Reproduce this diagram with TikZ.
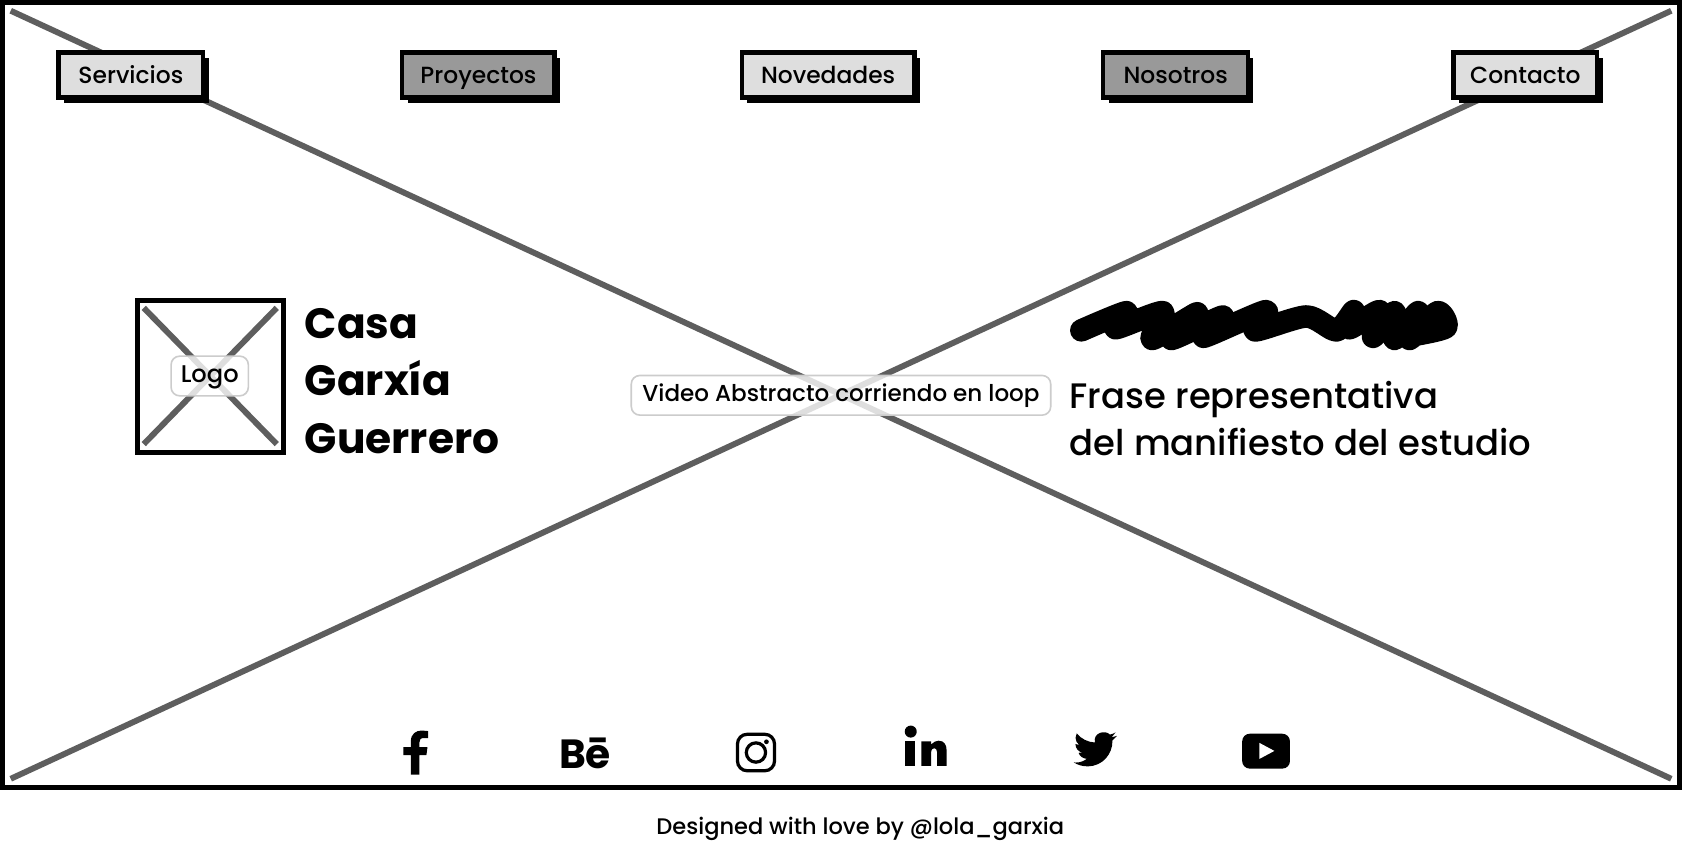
\documentclass[tikz,border=0pt]{standalone}
\usepackage{fontspec}
\setmainfont{Poppins}[UprightFont={* Medium},BoldFont={* Bold}]
\usetikzlibrary{shadows}
\tikzset{
  x=1pt,y=-1pt,
  navbtn/.style={draw=black,line width=4pt,inner sep=0pt,font=\fontsize{21.8}{21.8}\selectfont,text=black,text height=18pt,text depth=2pt,
    general shadow={shadow xshift=5pt,shadow yshift=-5pt,fill=black}},
  navlight/.style={navbtn,fill=black!13},
  navdark/.style={navbtn,fill=black!40},
  crossline/.style={draw=black!63,line width=5.5pt},
  framebox/.style={draw=black,line width=4.5pt},
  tag/.style={draw=black!20,line width=1.5pt,fill=white,fill opacity=.8,text opacity=1,rounded corners=8pt,inner sep=0pt,text=black},
  heading/.style={anchor=base west,inner sep=0pt,font=\fontsize{39.5}{39.5}\selectfont\bfseries},
  phrase/.style={anchor=base west,inner sep=0pt,font=\fontsize{33}{33}\selectfont},
  icon/.style={fill=black,draw=none}
}
\begin{document}
\begin{tikzpicture}
\useasboundingbox (0,0) rectangle (1568,790.5);
\fill[white] (0,0) rectangle (1568,790.5);
% outer frame and big cross
\coordinate (tl) at (10,10);\coordinate (tr) at (1558,10);\coordinate (bl) at (10,726);\coordinate (br) at (1558,726);
\draw[crossline] (tl) -- (br);
\draw[crossline] (tr) -- (bl);
\node[framebox,minimum width=1564pt,minimum height=732pt,inner sep=0pt] (frame) at (784,368) {};
% navigation
\node[navlight,minimum width=135pt,minimum height=42pt] (servicios) at (122,70) {Servicios};
\node[navdark,minimum width=142pt,minimum height=42pt] (proyectos) at (446,70) {Proyectos};
\node[navlight,minimum width=161pt,minimum height=42pt] (novedades) at (772,70) {Novedades};
\node[navdark,minimum width=135pt,minimum height=42pt] (nosotros) at (1096,70) {Nosotros};
\node[navlight,minimum width=134pt,minimum height=42pt] (contacto) at (1422,70) {Contacto};
% logo
\node[framebox,minimum width=136pt,minimum height=141pt,inner sep=0pt] (logobox) at (196,351) {};
\coordinate (l1) at (134,287);\coordinate (l2) at (258,414);\coordinate (l3) at (258,287);\coordinate (l4) at (134,414);
\draw[crossline] (l1) -- (l2);
\draw[crossline] (l3) -- (l4);
\node[tag,minimum width=72pt,minimum height=37pt,font=\fontsize{22.5}{22.5}\selectfont,text height=17pt,text depth=5pt] (logotag) at (195.5,350.5) {Logo};
\node[heading] (casa) at (284,316) {Casa};
\node[heading] (garxia) at (284,369) {Garxía};
\node[heading] (guerrero) at (284,423) {Guerrero};
% video tag
\node[tag,minimum width=391pt,minimum height=37pt,font=\fontsize{21.5}{21.5}\selectfont] (video) at (784,368.5) {Video Abstracto corriendo en loop};
% scribble
\draw[black,line width=21pt,line cap=round,line join=round]
 plot[smooth,tension=.45] coordinates {(1008,308) (1050,291) (1040,306) (1084,291) (1074,316) (1116,292) (1092,316) (1140,295) (1122,314) (1180,290) (1170,308) (1218,295) (1246,308) (1262,290) (1258,306) (1286,290) (1280,314) (1300,291) (1300,316) (1322,291) (1314,316) (1340,291) (1348,305) (1320,312)};
\node[phrase] (frase) at (997,381) {Frase representativa};
\node[phrase] (manifiesto) at (997,425) {del manifiesto del estudio};
% social icons
\fill[icon] (383,722) -- (383,704) -- (376,704) -- (376,696.5) -- (383,696.5) -- (383,691) .. controls (383,684) and (388,681) .. (393,681) -- (399,681.5) -- (399,688) -- (395,688) .. controls (392,688) and (391,689.5) .. (391,692) -- (391,696.5) -- (398.5,696.5) -- (397.5,704) -- (391,704) -- (391,722) -- cycle;
\node[anchor=base west,inner sep=0pt,font=\fontsize{38}{38}\selectfont\bfseries] (behance) at (521,716) {Bē};
\draw[black,line width=3pt,rounded corners=9pt] (687.5,684.5) rectangle (722,718.5);
\draw[black,line width=3pt] (704.7,701.5) circle[radius=9];
\fill[icon] (714.5,691.5) circle[radius=2.2];
\fill[icon] (849,682) circle[radius=5.6];
\fill[icon] (844,691) rectangle (853,714);
\fill[icon] (859,714) -- (859,691) -- (868,691) -- (868,694) .. controls (870,691.5) and (873,690.5) .. (875,690.5) .. controls (880,690.5) and (882.5,694) .. (882.5,700) -- (882.5,714) -- (873.5,714) -- (873.5,701) .. controls (873.5,699) and (872.5,697.5) .. (871,697.5) .. controls (869,697.5) and (868,699) .. (868,701) -- (868,714) -- cycle;
\begin{scope}[shift={(1001,678.5)},x=1.67pt,y=-1.65pt]
\fill[icon] (23.95,4.57) -- (21.13,5.35) -- (23.29,2.62) .. controls (22.34,3.18) and (21.29,3.58) .. (20.17,3.81) .. controls (17.5,0.9) and (10.6,2.8) .. (11.78,8.29) .. controls (7.69,8.1) and (4.07,6.13) .. (1.64,3.16) -- (0.97,5.64) .. controls (0.97,7.35) and (1.84,8.85) .. (3.16,9.73) -- (0.93,9.12) -- (0.93,9.18) .. controls (0.93,11.5) and (2.6,13.6) .. (4.88,14) -- (2.67,14.09) .. controls (3.3,16.1) and (5.2,17.4) .. (7.27,17.5) .. controls (5.6,18.85) and (3.5,19.6) .. (1.17,19.6) .. controls (.78,19.6) and (.39,19.58) .. (0,19.54) .. controls (2.2,20.95) and (4.75,21.75) .. (7.56,21.75) .. controls (16.6,21.75) and (21.55,14.25) .. (21.55,7.76) -- (21.54,7.13) -- (24,4.59) -- cycle;
\end{scope}
\fill[icon,rounded corners=7pt] (1158,684) rectangle (1202.5,716.5);
\fill[white] (1174,692.5) -- (1188,700) -- (1174,707.5) -- cycle;
% footer
\node[inner sep=0pt,anchor=base,font=\fontsize{21}{21}\selectfont] (credit) at (802,778) {Designed with love by @lola\_garxia};
\end{tikzpicture}
\end{document}
